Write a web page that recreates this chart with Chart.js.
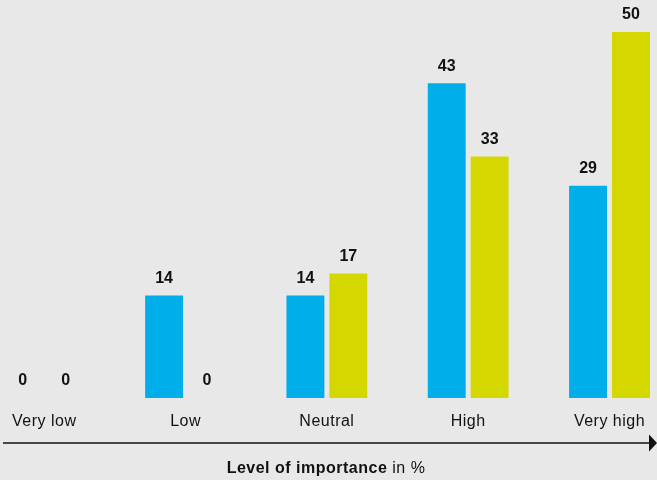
<!DOCTYPE html>
<html>
<head>
<meta charset="utf-8">
<script src="https://cdn.jsdelivr.net/npm/chart.js@4.4.1/dist/chart.umd.min.js"></script>
<style>
  body { margin: 0; background: #e8e8e8; }
  #wrap { width: 657px; height: 480px; position: relative; }
</style>
</head>
<body>
<div id="wrap"><canvas id="chart"></canvas></div>
<script>
const categories = ["Very low", "Low", "Neutral", "High", "Very high"];
const seriesBlue = [0, 14, 14, 43, 29];
const seriesYellow = [0, 0, 17, 33, 50];

const FONT = "'Liberation Sans', Arial, sans-serif";

// slightly wider text look, like the original typeface
const spacing = {
  id: "spacing",
  beforeDraw(chart) { chart.ctx.letterSpacing = "0.5px"; }
};

// numbers above each bar
const valueLabels = {
  id: "valueLabels",
  afterDatasetsDraw(chart) {
    const ctx = chart.ctx;
    ctx.save();
    ctx.letterSpacing = "0px";
    ctx.font = "bold 16px " + FONT;
    ctx.fillStyle = "#111";
    ctx.textAlign = "center";
    ctx.textBaseline = "middle";
    chart.data.datasets.forEach((ds, i) => {
      chart.getDatasetMeta(i).data.forEach((bar, j) => {
        ctx.fillText(ds.data[j], bar.x, bar.y - 17);
      });
    });
    ctx.restore();
  }
};

// arrow axis + title under the chart
const axisArrow = {
  id: "axisArrow",
  afterDraw(chart) {
    const ctx = chart.ctx;
    const y = 443;
    ctx.save();
    ctx.strokeStyle = "#111";
    ctx.lineWidth = 1.5;
    ctx.beginPath();
    ctx.moveTo(3, y);
    ctx.lineTo(650, y);
    ctx.stroke();
    ctx.fillStyle = "#111";
    ctx.beginPath();
    ctx.moveTo(649, y - 8.5);
    ctx.lineTo(657, y);
    ctx.lineTo(649, y + 8.5);
    ctx.closePath();
    ctx.fill();

    const bold = "Level of importance";
    const normal = " in %";
    ctx.letterSpacing = "0.5px";
    ctx.textBaseline = "middle";
    ctx.font = "bold 16px " + FONT;
    const w1 = ctx.measureText(bold).width;
    ctx.font = "16px " + FONT;
    const w2 = ctx.measureText(normal).width;
    let x = 326 - (w1 + w2) / 2;
    ctx.textAlign = "left";
    ctx.font = "bold 16px " + FONT;
    ctx.fillText(bold, x, 469);
    ctx.font = "16px " + FONT;
    ctx.fillText(normal, x + w1, 469);
    ctx.restore();
  }
};

new Chart(document.getElementById("chart"), {
  type: "bar",
  data: {
    labels: categories,
    datasets: [
      { data: seriesBlue, backgroundColor: "#00aeea", clip: false },
      { data: seriesYellow, backgroundColor: "#d4d800", clip: false }
    ]
  },
  options: {
    responsive: true,
    maintainAspectRatio: false,
    animation: false,
    barPercentage: 38 / 43,
    categoryPercentage: 86 / 141.6,
    layout: { padding: { top: 32, left: 43, right: 47.5, bottom: 0 } },
    plugins: {
      legend: { display: false },
      tooltip: { enabled: false }
    },
    scales: {
      x: {
        offset: false,
        grid: { display: false, drawTicks: false },
        border: { display: false },
        ticks: {
          autoSkip: false,
          maxRotation: 0,
          padding: 14,
          color: "#111",
          font: { family: FONT, size: 16 }
        },
        afterFit(scale) { scale.height = 82; }
      },
      y: {
        display: false,
        min: 0,
        max: 50
      }
    }
  },
  plugins: [spacing, valueLabels, axisArrow]
});
</script>
</body>
</html>
